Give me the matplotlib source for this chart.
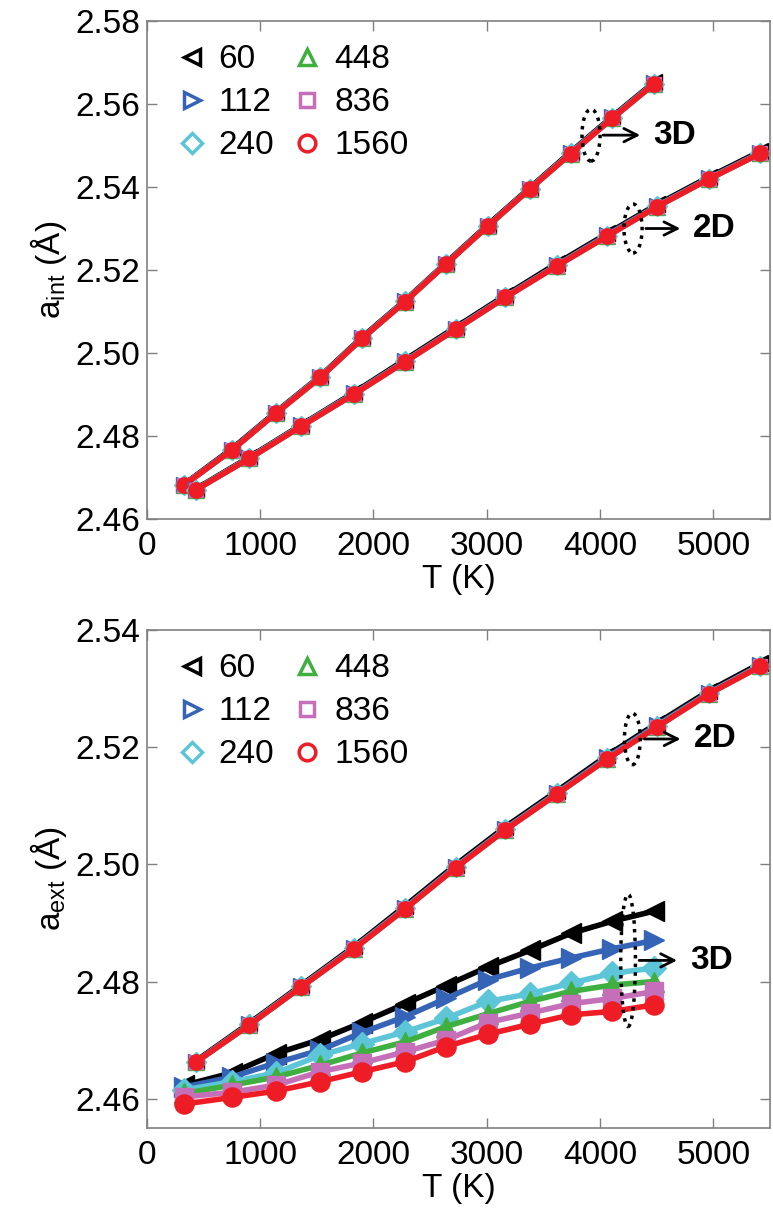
import matplotlib
matplotlib.use("Agg")
import matplotlib.pyplot as plt
from matplotlib.lines import Line2D
from matplotlib.patches import Ellipse

plt.rcParams["font.family"] = ["Liberation Sans", "DejaVu Sans"]
plt.rcParams["mathtext.default"] = "regular"

# system sizes (number of atoms) and their styles
sizes = ["60", "112", "240", "448", "836", "1560"]
colors = ["#000000", "#3563b5", "#5cc6d8", "#3fb040", "#c46fb8", "#ee1c24"]
markers = ["<", ">", "D", "^", "s", "o"]

# temperatures (K)
T_3d = [330, 750, 1140, 1530, 1900, 2280, 2640, 3010, 3380, 3740, 4110, 4475]
T_2d = [430, 905, 1365, 1830, 2280, 2725, 3165, 3620, 4065, 4505, 4960, 5415]

# intrinsic lattice parameter (Angstrom), one row per size
aint_3d = [
    [2.4684, 2.4769, 2.4858, 2.4944, 2.5038, 2.5127, 2.5217, 2.5309, 2.5398, 2.5484, 2.5570, 2.5652],
    [2.4683, 2.4767, 2.4856, 2.4943, 2.5036, 2.5126, 2.5215, 2.5307, 2.5396, 2.5482, 2.5568, 2.5650],
    [2.4682, 2.4766, 2.4856, 2.4942, 2.5035, 2.5125, 2.5215, 2.5306, 2.5396, 2.5481, 2.5567, 2.5649],
    [2.4682, 2.4766, 2.4855, 2.4941, 2.5035, 2.5124, 2.5214, 2.5306, 2.5395, 2.5480, 2.5566, 2.5648],
    [2.4682, 2.4766, 2.4855, 2.4941, 2.5035, 2.5124, 2.5214, 2.5306, 2.5395, 2.5480, 2.5566, 2.5648],
    [2.4682, 2.4766, 2.4855, 2.4941, 2.5035, 2.5124, 2.5214, 2.5306, 2.5395, 2.5480, 2.5566, 2.5648],
]
aint_2d = [
    [2.4672, 2.4749, 2.4827, 2.4905, 2.4984, 2.5062, 2.5139, 2.5216, 2.5288, 2.5358, 2.5424, 2.5486],
    [2.4671, 2.4747, 2.4826, 2.4903, 2.4981, 2.5059, 2.5136, 2.5212, 2.5285, 2.5355, 2.5421, 2.5483],
    [2.4670, 2.4747, 2.4825, 2.4902, 2.4980, 2.5058, 2.5135, 2.5211, 2.5283, 2.5354, 2.5420, 2.5482],
    [2.4670, 2.4746, 2.4824, 2.4901, 2.4979, 2.5057, 2.5134, 2.5210, 2.5282, 2.5353, 2.5419, 2.5481],
    [2.4670, 2.4746, 2.4824, 2.4901, 2.4979, 2.5057, 2.5134, 2.5210, 2.5282, 2.5353, 2.5419, 2.5481],
    [2.4670, 2.4746, 2.4824, 2.4901, 2.4979, 2.5057, 2.5134, 2.5210, 2.5282, 2.5353, 2.5419, 2.5481],
]

# extrinsic lattice parameter (Angstrom), one row per size
aext_3d = [
    [2.4623, 2.4644, 2.4677, 2.4701, 2.4730, 2.4762, 2.4793, 2.4825, 2.4853, 2.4882, 2.4903, 2.4920],
    [2.4620, 2.4637, 2.4661, 2.4683, 2.4713, 2.4740, 2.4771, 2.4803, 2.4823, 2.4840, 2.4856, 2.4870],
    [2.4615, 2.4629, 2.4644, 2.4674, 2.4694, 2.4714, 2.4737, 2.4766, 2.4779, 2.4797, 2.4814, 2.4823],
    [2.4609, 2.4623, 2.4637, 2.4657, 2.4678, 2.4697, 2.4723, 2.4745, 2.4766, 2.4783, 2.4794, 2.4800],
    [2.4603, 2.4611, 2.4623, 2.4646, 2.4661, 2.4680, 2.4700, 2.4730, 2.4746, 2.4762, 2.4771, 2.4783],
    [2.4591, 2.4602, 2.4613, 2.4629, 2.4646, 2.4663, 2.4689, 2.4710, 2.4727, 2.4743, 2.4749, 2.4760],
]
aext_2d = [
    [2.4664, 2.4729, 2.4794, 2.4860, 2.4929, 2.4999, 2.5064, 2.5125, 2.5186, 2.5241, 2.5296, 2.5343],
    [2.4663, 2.4727, 2.4792, 2.4858, 2.4926, 2.4996, 2.5061, 2.5122, 2.5183, 2.5238, 2.5293, 2.5340],
    [2.4662, 2.4727, 2.4792, 2.4857, 2.4925, 2.4995, 2.5060, 2.5121, 2.5181, 2.5236, 2.5292, 2.5339],
    [2.4662, 2.4726, 2.4791, 2.4856, 2.4924, 2.4994, 2.5059, 2.5120, 2.5180, 2.5235, 2.5291, 2.5338],
    [2.4662, 2.4726, 2.4791, 2.4856, 2.4924, 2.4994, 2.5059, 2.5120, 2.5180, 2.5235, 2.5291, 2.5338],
    [2.4662, 2.4726, 2.4791, 2.4856, 2.4924, 2.4994, 2.5059, 2.5120, 2.5180, 2.5235, 2.5291, 2.5338],
]

FS = 24


def draw_series(ax, T, rows, ms_scale=1.0):
    for vals, c, m in zip(rows, colors, markers):
        ms = 10 if m in "Ds" else 11
        ax.plot(T, vals, color=c, lw=4, marker=m, ms=ms * ms_scale,
                mfc=c, mec=c, zorder=2)


def mark_group(ax, center, width, height, x0, x1, label):
    ax.add_patch(Ellipse(center, width, height, fill=False, ls=(0, (1, 1.5)),
                         lw=2.5, ec="k", zorder=5))
    y = center[1]
    ax.annotate("", xy=(x1, y), xytext=(x0, y),
                arrowprops=dict(arrowstyle="->", lw=2, color="k",
                                mutation_scale=24), zorder=5)
    ax.text(x1 + 90, y, label, fontsize=FS, fontweight="bold",
            va="center", ha="left", zorder=5)


def style_axes(ax, ylabel, ylim, yticks):
    ax.set_xlim(0, 5500)
    ax.set_ylim(*ylim)
    ax.set_xticks(range(0, 5001, 1000))
    ax.set_yticks(yticks)
    ax.set_yticklabels([f"{v:.2f}" for v in yticks])
    ax.tick_params(direction="in", length=7, width=1, color="#808080",
                   labelsize=FS, top=True, right=True)
    ax.tick_params(axis="x", pad=9)
    ax.tick_params(axis="y", pad=5)
    for s in ax.spines.values():
        s.set_color("#808080")
        s.set_linewidth(1.2)
    ax.set_xlabel("T (K)", fontsize=FS, labelpad=1)
    ax.set_ylabel(ylabel, fontsize=FS, labelpad=4)
    handles = [Line2D([], [], ls="none", marker=m, ms=12 if m not in "Ds" else 10,
                      mfc="none", mec=c, mew=2.5)
               for c, m in zip(colors, markers)]
    ax.legend(handles, sizes, loc="upper left", ncol=2, frameon=False,
              fontsize=FS, handletextpad=0.15, columnspacing=0.35,
              labelspacing=0.36, borderaxespad=0.3, handlelength=1.3)


fig = plt.figure(figsize=(7.73, 12.16), dpi=100)
ax1 = fig.add_axes([0.190, 0.5732, 0.806, 0.4095])
ax2 = fig.add_axes([0.190, 0.0724, 0.806, 0.4095])

draw_series(ax1, T_3d, aint_3d)
draw_series(ax1, T_2d, aint_2d)
style_axes(ax1, "a$_{int}$ (Å)", (2.46, 2.58), [2.46, 2.48, 2.50, 2.52, 2.54, 2.56, 2.58])
mark_group(ax1, (3921, 2.5525), 160, 0.0125, 4003, 4380, "3D")
mark_group(ax1, (4292, 2.5300), 160, 0.0118, 4380, 4734, "2D")

draw_series(ax2, T_3d, aext_3d, ms_scale=1.25)
draw_series(ax2, T_2d, aext_2d)
style_axes(ax2, "a$_{ext}$ (Å)", (2.455, 2.54), [2.46, 2.48, 2.50, 2.52, 2.54])
mark_group(ax2, (4286, 2.5214), 140, 0.0088, 4367, 4736, "2D")
mark_group(ax2, (4248, 2.4836), 130, 0.0226, 4321, 4705, "3D")

fig.savefig("out.png", dpi=100)
